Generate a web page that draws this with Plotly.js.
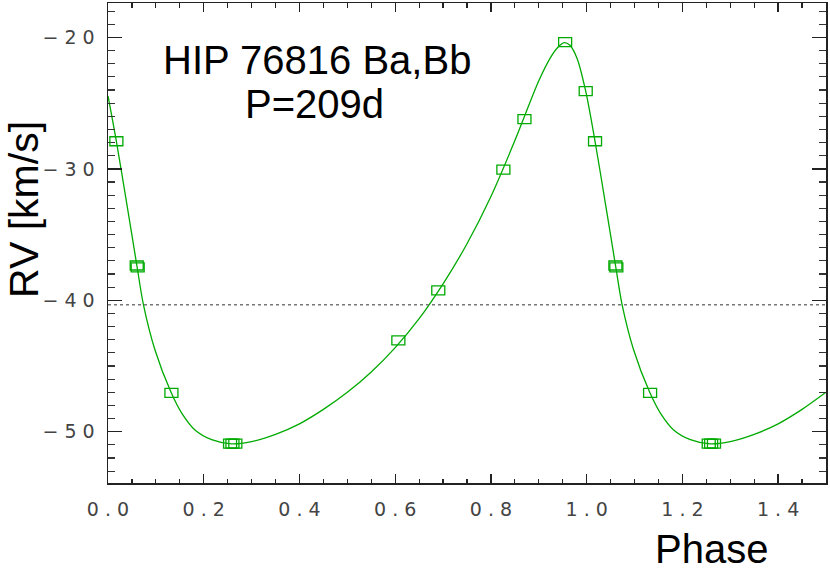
<!DOCTYPE html>
<html>
<head>
<meta charset="utf-8">
<script src="https://cdn.plot.ly/plotly-3.0.1.min.js"></script>
<style>
  html, body { margin: 0; padding: 0; background: #fff; }
  #grafico { width: 830px; height: 571px; }
</style>
</head>
<body>
<div id="grafico"></div>
<script>
// observed radial velocities (phase, km/s)
const obsPhase = [0.0175, 0.060, 0.062, 0.1325, 0.255, 0.260, 0.266, 0.6066, 0.690, 0.826, 0.870, 0.955, 0.998];
const obsRV = [-27.9, -37.35, -37.5, -47.04, -50.9, -50.9, -50.9, -43.05, -39.25, -30.05, -26.22, -20.36, -24.09];

// orbit fit
const modelPhase = [0.0, 0.0175, 0.039, 0.0606, 0.074, 0.098, 0.1317, 0.154, 0.1817, 0.2166, 0.258, 0.30, 0.35,
    0.40, 0.45, 0.50, 0.55, 0.60, 0.65, 0.70, 0.75, 0.80, 0.85, 0.90, 0.925, 0.94, 0.953, 0.965, 0.98, 0.998,
    1.0175, 1.039, 1.0606, 1.074, 1.098, 1.1317, 1.154, 1.1817, 1.2166, 1.258, 1.30, 1.35, 1.40, 1.45, 1.50];
const modelRV = [-24.45, -27.9, -32.6, -37.42, -40.33, -43.76, -47.0, -48.58, -49.86, -50.6, -50.92, -50.75, -50.2,
    -49.4, -48.3, -47.0, -45.45, -43.6, -41.4, -38.75, -35.7, -32.1, -27.85, -23.3, -21.5, -20.75, -20.4, -20.6, -21.6, -24.09,
    -27.9, -32.6, -37.42, -40.33, -43.76, -47.0, -48.58, -49.86, -50.6, -50.92, -50.75, -50.2, -49.4, -48.3, -47.0];

const systemicRV = -40.33;

const xTickVals = [0, 0.2, 0.4, 0.6, 0.8, 1.0, 1.2, 1.4];
const xTickText = ['0 . 0', '0 . 2', '0 . 4', '0 . 6', '0 . 8', '1 . 0', '1 . 2', '1 . 4'];
const yTickVals = [-50, -40, -30, -20];
const yTickText = ['\u2212 5 0', '\u2212 4 0', '\u2212 3 0', '\u2212 2 0'];

const verde = '#00aa00';
const fuenteTicks = { family: 'DejaVu Sans ExtraLight, DejaVu Sans, sans-serif', size: 19, color: '#444' };
const fuenteTexto = { family: 'Liberation Sans, Arial, sans-serif', size: 40, color: '#000' };

// phases below 0.5 are repeated one cycle later
const ptsX = [];
const ptsY = [];
obsPhase.forEach((p, i) => {
    ptsX.push(p);
    ptsY.push(obsRV[i]);
    if (p < 0.5) {
        ptsX.push(p + 1);
        ptsY.push(obsRV[i]);
    }
});

const cajas = ptsX.map((x, i) => ({
    type: 'rect', xref: 'x', yref: 'y',
    xsizemode: 'pixel', ysizemode: 'pixel',
    xanchor: x, yanchor: ptsY[i],
    x0: -6.5, x1: 6.5, y0: -4.5, y1: 4.5,
    line: { color: verde, width: 1.3 }
}));

const data = [
    {
        x: modelPhase,
        y: modelRV,
        type: 'scatter',
        mode: 'lines',
        line: { color: verde, width: 1.3, shape: 'spline', smoothing: 0.8 },
        hoverinfo: 'skip'
    }
];

const ejeComun = {
    showgrid: false,
    zeroline: false,
    showline: true,
    linecolor: '#222',
    linewidth: 1.5,
    mirror: 'ticks',
    ticks: 'inside',
    tickcolor: '#222',
    tickwidth: 1.3,
    tickfont: fuenteTicks,
    tickmode: 'array'
};

const layout = {
    width: 830,
    height: 571,
    margin: { l: 108, r: 4, t: 3, b: 88 },
    paper_bgcolor: '#fff',
    plot_bgcolor: '#fff',
    showlegend: false,
    xaxis: Object.assign({}, ejeComun, {
        range: [0, 1.5],
        tickvals: xTickVals,
        ticktext: xTickText,
        ticklen: 9,
        ticklabelstandoff: 9,
        minor: { dtick: 0.05, ticklen: 4.5, tickcolor: '#222', tickwidth: 1.2, ticks: 'inside' }
    }),
    yaxis: Object.assign({}, ejeComun, {
        range: [-53.9, -17.38],
        tickvals: yTickVals,
        ticktext: yTickText,
        ticklen: 14,
        ticklabelstandoff: 8,
        minor: { dtick: 1, ticklen: 7, tickcolor: '#333', tickwidth: 1.2, ticks: 'inside' }
    }),
    shapes: [
        {
            type: 'line', xref: 'paper', yref: 'y',
            x0: 0, x1: 1, y0: systemicRV, y1: systemicRV,
            line: { color: '#777', width: 1.5, dash: 'dot' }
        }
    ].concat(cajas),
    annotations: [
        { text: 'HIP 76816 Ba,Bb', xref: 'paper', yref: 'paper', x: 0.2916, y: 0.882, xanchor: 'center', yanchor: 'middle', showarrow: false, font: fuenteTexto },
        { text: 'P=209d', xref: 'paper', yref: 'paper', x: 0.2875, y: 0.790, xanchor: 'center', yanchor: 'middle', showarrow: false, font: fuenteTexto },
        { text: 'RV [km/s]', xref: 'paper', yref: 'paper', x: -0.117, y: 0.571, xanchor: 'center', yanchor: 'middle', textangle: -90, showarrow: false, borderpad: 0, font: Object.assign({}, fuenteTexto, { size: 41 }) },
        { text: 'Phase', xref: 'paper', yref: 'paper', x: 0.8404, y: -0.138, xanchor: 'center', yanchor: 'middle', showarrow: false, borderpad: 0, font: fuenteTexto }
    ]
};

Plotly.newPlot('grafico', data, layout, { staticPlot: true });
</script>
</body>
</html>
